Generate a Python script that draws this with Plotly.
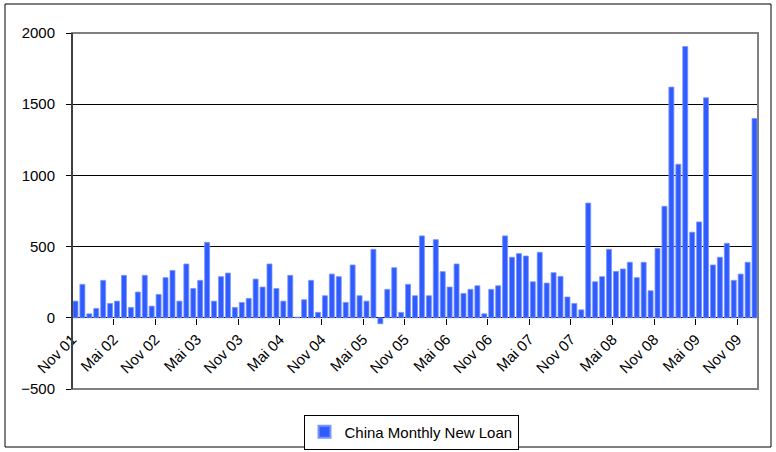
import plotly.graph_objects as go

# Monthly new loans, Nov 2001 .. Jan 2010 (one value per month)
values = [
    117, 235, 28, 66, 263, 101, 117, 298, 73, 181, 298, 82,      # Nov01-Oct02
    164, 282, 333, 117, 378, 206, 263, 530, 117, 289, 314, 73,   # Nov02-Oct03
    108, 136, 272, 216, 378, 206, 117, 298, 5, 127, 263, 38,     # Nov03-Oct04
    155, 307, 289, 108, 371, 155, 117, 481, -42, 200, 352, 38,   # Nov04-Oct05
    235, 155, 575, 155, 549, 324, 216, 378, 171, 200, 225, 28,   # Nov05-Oct06
    200, 225, 575, 425, 451, 434, 253, 460, 244, 317, 291, 146,  # Nov06-Oct07
    101, 56, 806, 253, 289, 481, 326, 343, 390, 282, 390, 190,   # Nov07-Oct08
    488, 783, 1620, 1078, 1905, 601, 673, 1545, 371, 425, 523, 263,  # Nov08-Oct09
    307, 390, 1400,                                              # Nov09-Jan10
]
series_name = "China Monthly New Loan"
tick_labels = ["Nov 01", "Mai 02", "Nov 02", "Mai 03", "Nov 03", "Mai 04",
               "Nov 04", "Mai 05", "Nov 05", "Mai 06", "Nov 06", "Mai 07",
               "Nov 07", "Mai 08", "Nov 08", "Mai 09", "Nov 09"]
tick_every = 6

x = list(range(len(values)))
tickvals = [i * tick_every - 0.5 for i in range(len(tick_labels))]

FONT = "Liberation Sans, Arial, sans-serif"

W, H = 776, 452
L, R, T, B = 72, 18, 33, 63
pw, ph = W - L - R, H - T - B

fig = go.Figure()
fig.add_trace(go.Bar(
    x=x, y=values, name=series_name,
    width=0.72,
    marker=dict(color="#2f5cff", line=dict(color="#7a94ff", width=0.8)),
    showlegend=True,
))

ymin, ymax = -500, 2000
fig.update_layout(
    width=W, height=H,
    margin=dict(l=L, r=R, t=T, b=B, autoexpand=False),
    paper_bgcolor="white", plot_bgcolor="white",
    font=dict(family=FONT, size=15, color="black"),
    bargap=0.28,
    xaxis=dict(
        range=[-0.5, len(values) - 0.5],
        tickmode="array", tickvals=tickvals, ticktext=tick_labels,
        tickangle=-45, ticks="outside", ticklen=6, tickcolor="black",
        showgrid=False, showline=False, zeroline=False,
        anchor="free", position=(0 - ymin) / (ymax - ymin),
        tickfont=dict(size=15),
    ),
    yaxis=dict(
        range=[ymin, ymax], dtick=500, tick0=0,
        showgrid=True, gridcolor="black", gridwidth=1,
        zeroline=True, zerolinecolor="black", zerolinewidth=1,
        showline=True, linecolor="black", linewidth=1,
        ticks="outside", ticklen=5, tickcolor="black",
        ticklabelstandoff=8,
        tickfont=dict(size=15),
    ),
    legend=dict(
        orientation="h", x=(411 - L) / pw, xanchor="center",
        y=(H - B - 432) / ph, yanchor="middle",
        bordercolor="black", borderwidth=1,
        font=dict(size=15), itemsizing="constant",
        bgcolor="white", itemwidth=30,
    ),
    shapes=[
        # plot area border
        dict(type="rect", xref="paper", yref="paper", x0=0, x1=1, y0=0, y1=1,
             line=dict(color="#808080", width=2), layer="above"),
        # y axis line over border
        dict(type="line", xref="paper", yref="paper", x0=0, x1=0, y0=0, y1=1,
             line=dict(color="black", width=1), layer="above"),
        # outer chart border
        dict(type="rect", xref="paper", yref="paper",
             x0=(5 - L) / pw, x1=(771 - L) / pw,
             y0=(H - B - 447) / ph, y1=(H - B - 4) / ph,
             line=dict(color="black", width=1), layer="above"),
    ],
)

fig.write_html(
    "out.html",
    config={"displayModeBar": False},
    post_script="document.body.style.margin='0';document.body.style.overflow='hidden';",
)
